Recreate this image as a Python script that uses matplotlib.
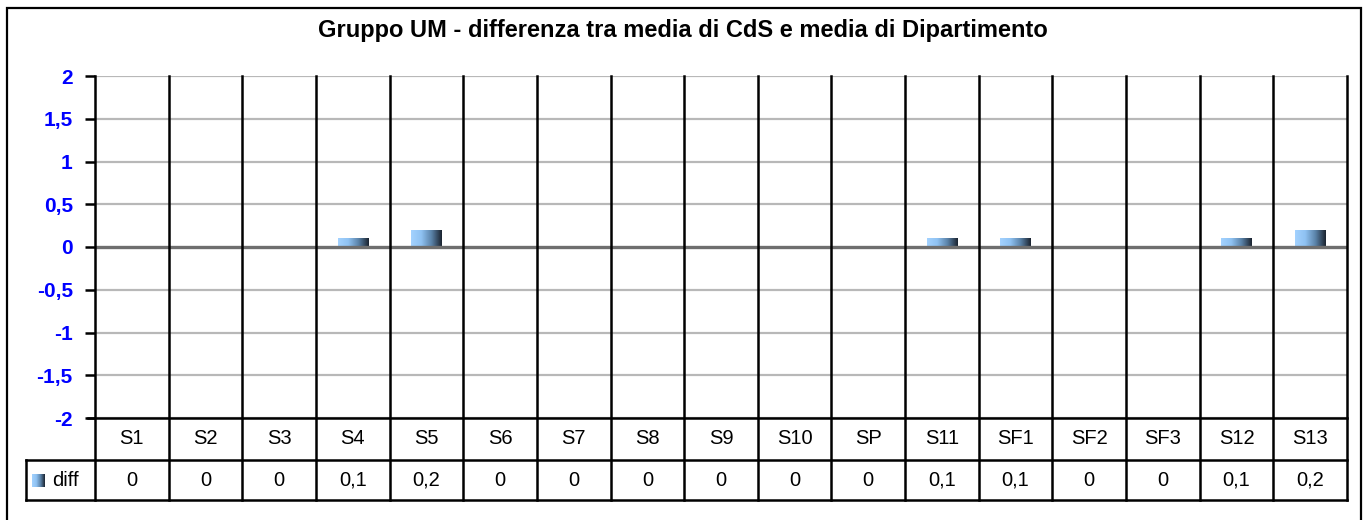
import numpy as np
import matplotlib
matplotlib.use("Agg")
import matplotlib.pyplot as plt
from matplotlib.colors import LinearSegmentedColormap
from matplotlib.transforms import blended_transform_factory
from matplotlib.patches import Rectangle
from matplotlib.lines import Line2D

title = "Gruppo UM - differenza tra media di CdS e media di Dipartimento"
categories = ["S1", "S2", "S3", "S4", "S5", "S6", "S7", "S8", "S9", "S10",
              "SP", "S11", "SF1", "SF2", "SF3", "S12", "S13"]
diff = [0, 0, 0, 0.1, 0.2, 0, 0, 0, 0, 0, 0, 0.1, 0.1, 0, 0, 0.1, 0.2]
diff_labels = ["0", "0", "0", "0,1", "0,2", "0", "0", "0", "0", "0", "0",
               "0,1", "0,1", "0", "0", "0,1", "0,2"]
series_name = "diff"
yticks = [-2, -1.5, -1, -0.5, 0, 0.5, 1, 1.5, 2]
ytick_labels = ["-2", "-1,5", "-1", "-0,5", "0", "0,5", "1", "1,5", "2"]

plt.rcParams['font.family'] = ['Liberation Sans', 'DejaVu Sans']

W, H = 1365, 520
fig = plt.figure(figsize=(W / 100, H / 100), dpi=100)

def fx(px):
    return px / W

def fy(py):
    return 1 - py / H

# plot area in pixels
L, R, T, B = 95, 1347, 76, 418
ax = fig.add_axes([fx(L), fy(B), fx(R) - fx(L), fy(T) - fy(B)])
ax.set_xlim(-0.5, len(categories) - 0.5)
ax.set_ylim(-2, 2)
for s in ax.spines.values():
    s.set_visible(False)
ax.set_xticks([])
ax.set_yticks(yticks)
ax.set_yticklabels(ytick_labels, color="#0000ff", fontweight="bold", fontsize=15)
ax.tick_params(axis='y', length=7, width=1.8, color="black", pad=9)

# gridlines
for v in yticks:
    if v == 0:
        continue
    ax.axhline(v, color="#b8b8b8", lw=1.6, zorder=1)
ax.axhline(0, color="#6e6e6e", lw=2.4, zorder=4)

# outer figure border (bottom edge lies outside the image)
fig.add_artist(Rectangle((fx(6.5), fy(530)), fx(1361) - fx(6.5), fy(8) - fy(530),
                         transform=fig.transFigure, fill=False, lw=1.6,
                         edgecolor="black"))

ax_h = B - T
def ay(py):
    return (B - py) / ax_h

trans = blended_transform_factory(ax.transData, ax.transAxes)

# vertical lines
for k in range(len(categories) + 1):
    ax.add_line(Line2D([k - 0.5, k - 0.5], [ay(500), 1], transform=trans,
                       color="black", lw=1.8, clip_on=False, zorder=5))
# horizontal table lines
fig.add_artist(Line2D([fx(88), fx(R)], [fy(418), fy(418)], transform=fig.transFigure,
                      color="black", lw=1.8))
for py in (460, 500):
    fig.add_artist(Line2D([fx(26), fx(R)], [fy(py), fy(py)], transform=fig.transFigure,
                          color="black", lw=1.8))
fig.add_artist(Line2D([fx(26), fx(26)], [fy(460), fy(500)], transform=fig.transFigure,
                      color="black", lw=1.8))

# gradient colormap
cmap = LinearSegmentedColormap.from_list(
    "grad", ["#a3d2ff", "#8fc2f2", "#5a82a8", "#1a222e"])
grad = np.linspace(0, 1, 256).reshape(1, -1)

bars = ax.bar(range(len(categories)), diff, width=0.41, color="none",
              edgecolor="none", zorder=3)
for b in bars:
    h = b.get_height()
    if h == 0:
        continue
    x0 = b.get_x()
    w = b.get_width()
    im = ax.imshow(grad, cmap=cmap, aspect="auto",
                   extent=(x0, x0 + w, 0, h), zorder=3)
    im.set_clip_path(b)
ax.set_xlim(-0.5, len(categories) - 0.5)
ax.set_ylim(-2, 2)

# table texts
for i, (c, v) in enumerate(zip(categories, diff_labels)):
    ax.text(i, ay(439), c, transform=trans, ha="center", va="center", fontsize=14.5)
    ax.text(i, ay(480), v, transform=trans, ha="center", va="center", fontsize=14.5)

# legend key
lax = fig.add_axes([fx(32), fy(487), fx(44) - fx(32), fy(474) - fy(487)])
lax.imshow(grad, cmap=cmap, aspect="auto")
lax.axis("off")
fig.text(fx(52), fy(481), series_name, ha="left", va="center", fontsize=14.5)

# title
fig.text(0.5, fy(30), title, ha="center", va="center", fontsize=17,
         fontweight="bold")

fig.savefig("out.png", dpi=100)
